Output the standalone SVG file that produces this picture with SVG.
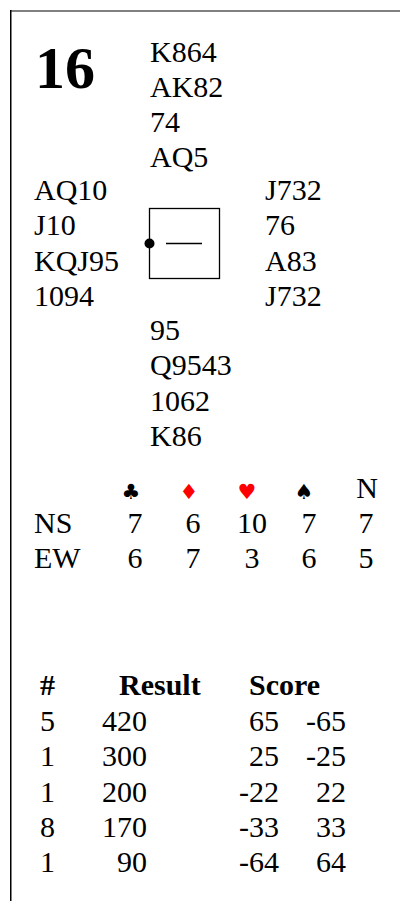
<svg xmlns="http://www.w3.org/2000/svg" width="401" height="901" viewBox="0 0 401 901">
<style>
text{font-family:"Liberation Serif","Times New Roman",serif;font-size:30px;fill:#000}
.b{font-weight:bold}
.m{text-anchor:middle}
.e{text-anchor:end}
.red{fill:#ff0000}
.suit{font-family:"DejaVu Sans",sans-serif;font-size:21px}
</style>
<rect width="401" height="901" fill="#fff"/>
<g id="frame">
<rect x="10" y="10" width="390" height="2" fill="#808080"/>
<rect x="10" y="10" width="1.5" height="891" fill="#000"/>
</g>
<g id="board"><text x="35" y="88" class="b" style="font-size:60px">16</text></g>
<g id="north">
<text x="150" y="62">K864</text>
<text x="150" y="97">AK82</text>
<text x="150" y="132">74</text>
<text x="150" y="167">AQ5</text>
</g>
<g id="west">
<text x="34" y="200">AQ10</text>
<text x="34" y="235">J10</text>
<text x="34" y="271">KQJ95</text>
<text x="34" y="306">1094</text>
</g>
<g id="east">
<text x="265" y="200">J732</text>
<text x="265" y="235">76</text>
<text x="265" y="271">A83</text>
<text x="265" y="306">J732</text>
</g>
<g id="table-box">
<rect x="149.5" y="208.5" width="70" height="70" fill="none" stroke="#000" stroke-width="1.3"/>
<circle cx="149.5" cy="243.5" r="5" fill="#000"/>
<line x1="166" y1="243.5" x2="202" y2="243.5" stroke="#000" stroke-width="1.3"/>
</g>
<g id="south">
<text x="150" y="340">95</text>
<text x="150" y="375">Q9543</text>
<text x="150" y="411">1062</text>
<text x="150" y="446">K86</text>
</g>
<g id="tricks">
<text x="131" y="499" class="m suit">♣</text>
<text x="189" y="499" class="m suit red">♦</text>
<text x="247" y="499" class="m suit red">♥</text>
<text x="304" y="499" class="m suit">♠</text>
<text x="367" y="498" class="m">N</text>
<text x="34" y="533">NS</text>
<text x="135" y="533" class="m">7</text>
<text x="193" y="533" class="m">6</text>
<text x="252" y="533" class="m">10</text>
<text x="309" y="533" class="m">7</text>
<text x="366" y="533" class="m">7</text>
<text x="34" y="568">EW</text>
<text x="135" y="568" class="m">6</text>
<text x="193" y="568" class="m">7</text>
<text x="252" y="568" class="m">3</text>
<text x="309" y="568" class="m">6</text>
<text x="366" y="568" class="m">5</text>
</g>
<g id="results">
<text x="40" y="695" class="b">#</text>
<text x="119" y="695" class="b">Result</text>
<text x="249" y="695" class="b">Score</text>
<text x="40" y="731">5</text><text x="147" y="731" class="e">420</text><text x="279" y="731" class="e">65</text><text x="346" y="731" class="e">-65</text>
<text x="40" y="766">1</text><text x="147" y="766" class="e">300</text><text x="279" y="766" class="e">25</text><text x="346" y="766" class="e">-25</text>
<text x="40" y="802">1</text><text x="147" y="802" class="e">200</text><text x="279" y="802" class="e">-22</text><text x="346" y="802" class="e">22</text>
<text x="40" y="837">8</text><text x="147" y="837" class="e">170</text><text x="279" y="837" class="e">-33</text><text x="346" y="837" class="e">33</text>
<text x="40" y="872">1</text><text x="147" y="872" class="e">90</text><text x="279" y="872" class="e">-64</text><text x="346" y="872" class="e">64</text>
</g>
</svg>
